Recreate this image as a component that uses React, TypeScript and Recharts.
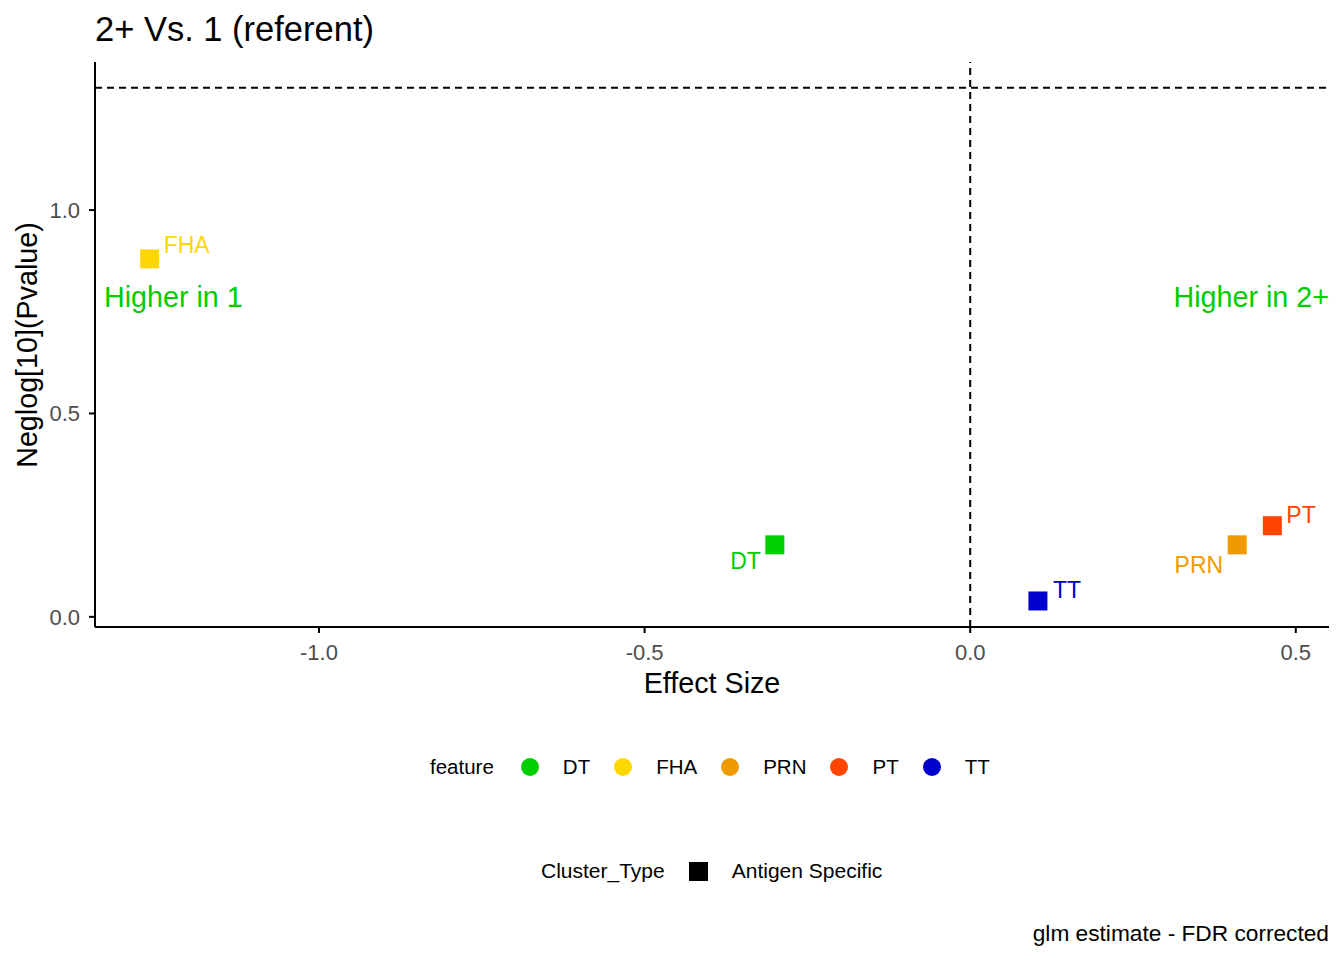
import React from "react";
import { ScatterChart, Scatter, XAxis, YAxis, ReferenceLine, Cell } from "recharts";

const features = ["DT", "FHA", "PRN", "PT", "TT"];
const effectSize = [-0.3, -1.26, 0.41, 0.464, 0.104];
const negLogP = [0.177, 0.88, 0.177, 0.224, 0.039];
const featureColors = ["#00CD00", "#FFD700", "#EE9A00", "#FF4500", "#0000CD"];
const xTicks = [-1.0, -0.5, 0.0, 0.5];
const yTicks = [0.0, 0.5, 1.0];
const pCutoff = 1.301;

// where each repel label sits relative to its square
const labelPos: Record<string, { dx: number; dy: number; anchor: string }> = {
  DT: { dx: -14, dy: 16, anchor: "end" },
  FHA: { dx: 14, dy: -14, anchor: "start" },
  PRN: { dx: -14, dy: 20, anchor: "end" },
  PT: { dx: 14, dy: -11, anchor: "start" },
  TT: { dx: 15, dy: -11, anchor: "start" },
};

const data = features.map((f, i) => ({ feature: f, x: effectSize[i], y: negLogP[i], color: featureColors[i] }));

const font = '"Liberation Sans", Arial, sans-serif';

function SquarePoint(props: any) {
  const { cx, cy, payload } = props;
  const lp = labelPos[payload.feature];
  return (
    <g>
      <rect x={cx - 9.5} y={cy - 9.5} width={19} height={19} fill={payload.color} />
      <text x={cx + lp.dx} y={cy + lp.dy} dy="0.36em" textAnchor={lp.anchor} fontSize={23} fill={payload.color} fontFamily={font}>
        {payload.feature}
      </text>
    </g>
  );
}

const centerY = (top: number): React.CSSProperties => ({ position: "absolute", top, transform: "translateY(-50%)", whiteSpace: "nowrap" });

export default function App() {
  const tick = { fontSize: 22, fill: "#4D4D4D", fontFamily: font };
  return (
    <div style={{ position: "absolute", left: 0, top: 0, width: 1344, height: 960, background: "#fff", fontFamily: font, color: "#000" }}>
      <div style={{ ...centerY(29), left: 95, fontSize: 34.5 }}>2+ Vs. 1 (referent)</div>
      <ScatterChart width={1344} height={960} margin={{ top: 62, right: 15, bottom: 293, left: 28 }}>
        <XAxis
          type="number"
          dataKey="x"
          domain={[-1.344, 0.551]}
          ticks={xTicks}
          allowDataOverflow
          tickFormatter={(v) => v.toFixed(1)}
          stroke="#000"
          strokeWidth={2}
          tickSize={6}
          tickMargin={11}
          height={40}
          tick={tick}
        />
        <YAxis
          type="number"
          dataKey="y"
          domain={[-0.025, 1.364]}
          ticks={yTicks}
          allowDataOverflow
          tickFormatter={(v) => v.toFixed(1)}
          stroke="#000"
          strokeWidth={2}
          tickSize={6}
          tickMargin={9}
          width={67}
          tick={tick}
        />
        <ReferenceLine y={pCutoff} stroke="#000" strokeWidth={2} strokeDasharray="7 5" />
        <ReferenceLine x={0} stroke="#000" strokeWidth={2} strokeDasharray="7 5" />
        <Scatter data={data} shape={SquarePoint} isAnimationActive={false}>
          {data.map((d) => (
            <Cell key={d.feature} fill={d.color} />
          ))}
        </Scatter>
      </ScatterChart>

      <div style={{ ...centerY(297), left: 104, fontSize: 28.7, color: "#00CD00" }}>Higher in 1</div>
      <div style={{ ...centerY(297), right: 15, fontSize: 28.7, color: "#00CD00" }}>Higher in 2+</div>

      <div style={{ position: "absolute", left: 27, top: 345, transform: "translate(-50%, -50%) rotate(-90deg)", fontSize: 28.7, whiteSpace: "nowrap" }}>
        Neglog[10](Pvalue)
      </div>
      <div style={{ position: "absolute", left: 712, top: 683, transform: "translate(-50%, -50%)", fontSize: 28.7, whiteSpace: "nowrap" }}>
        Effect Size
      </div>

      <div style={{ ...centerY(767), left: 430, display: "flex", alignItems: "center", fontSize: 20.5 }}>
        <span style={{ marginRight: 27 }}>feature</span>
        {features.map((f, i) => (
          <span key={f} style={{ display: "flex", alignItems: "center" }}>
            <span style={{ width: 18, height: 18, borderRadius: "50%", background: featureColors[i], marginRight: 24 }} />
            <span style={{ marginRight: 24 }}>{f}</span>
          </span>
        ))}
      </div>

      <div style={{ ...centerY(871), left: 541, display: "flex", alignItems: "center", fontSize: 21 }}>
        <span style={{ marginRight: 24 }}>Cluster_Type</span>
        <span style={{ width: 19, height: 19, background: "#000", marginRight: 24 }} />
        <span>Antigen Specific</span>
      </div>

      <div style={{ ...centerY(933), right: 15, fontSize: 22.7 }}>glm estimate - FDR corrected</div>
    </div>
  );
}
